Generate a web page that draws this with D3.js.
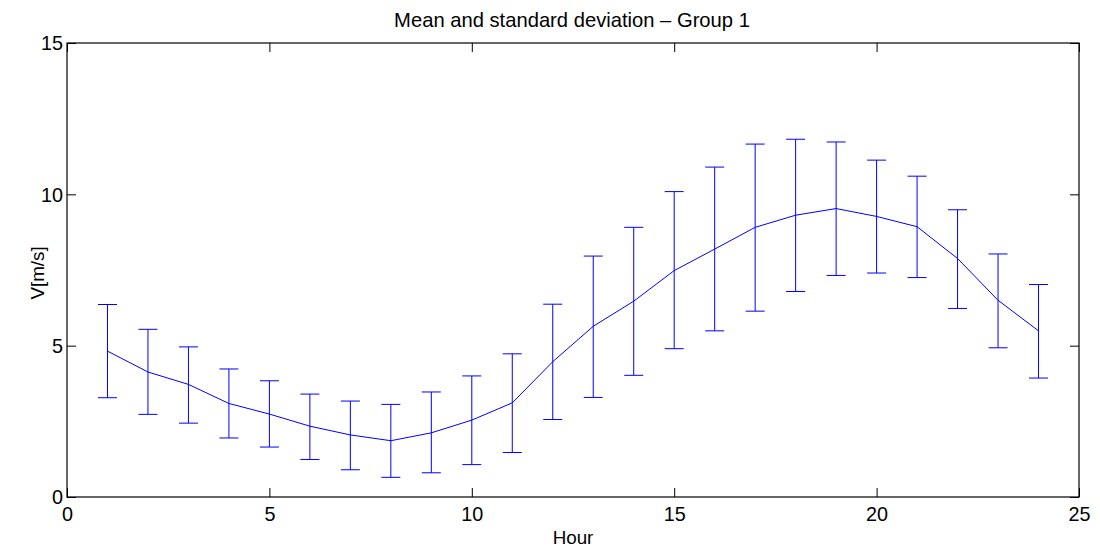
<!DOCTYPE html>
<html><head><meta charset="utf-8">
<script src="https://cdn.jsdelivr.net/npm/d3@7"></script>
<style>
html,body{margin:0;padding:0;background:#fff;}
text{font-family:"Liberation Sans",Arial,sans-serif;fill:#000;}
</style></head>
<body>
<svg id="chart" width="1100" height="549"></svg>
<script>
const hours = [1,2,3,4,5,6,7,8,9,10,11,12,13,14,15,16,17,18,19,20,21,22,23,24];
const meanV = [4.82,4.13,3.72,3.09,2.74,2.34,2.05,1.86,2.12,2.54,3.11,4.47,5.64,6.47,7.48,8.19,8.91,9.31,9.53,9.27,8.93,7.88,6.50,5.49];
const upperV = [6.36,5.54,4.96,4.23,3.84,3.40,3.17,3.06,3.47,4.00,4.73,6.37,7.96,8.91,10.09,10.90,11.66,11.82,11.73,11.13,10.60,9.49,8.03,7.02];
const lowerV = [3.28,2.73,2.44,1.95,1.65,1.24,0.90,0.65,0.80,1.07,1.47,2.56,3.29,4.02,4.90,5.49,6.14,6.79,7.32,7.40,7.25,6.23,4.93,3.93];
const xTicks = [0,5,10,15,20,25];
const yTicks = [0,5,10,15];
const title = "Mean and standard deviation \u2013 Group 1";
const xLabel = "Hour";
const yLabel = "V[m/s]";

const svg = d3.select("#chart");
const L = 67, R = 1079, T = 43, B = 497;
const x = d3.scaleLinear().domain([0,25]).range([L,R]);
const y = d3.scaleLinear().domain([0,15]).range([B,T]);
const fsTick = 19.8;
const fsTitle = 20.2;
const fsLabel = 18.8;
const blue = "#0000ff";
const cap = 9.5;

const g = svg.append("g");
g.append("rect").attr("x",L).attr("y",T).attr("width",R-L).attr("height",B-T)
  .attr("fill","none").attr("stroke","#000").attr("stroke-width",1.2);

const xb = g.append("g").attr("transform",`translate(0,${B})`)
  .call(d3.axisBottom(x).tickValues(xTicks).tickSizeInner(-9).tickSizeOuter(0).tickPadding(14).tickFormat(d3.format("d")));
const xt = g.append("g").attr("transform",`translate(0,${T})`)
  .call(d3.axisTop(x).tickValues(xTicks).tickSizeInner(-9).tickSizeOuter(0).tickFormat(""));
const yl = g.append("g").attr("transform",`translate(${L},0)`)
  .call(d3.axisLeft(y).tickValues(yTicks).tickSizeInner(-9).tickSizeOuter(0).tickPadding(14).tickFormat(d3.format("d")));
const yr = g.append("g").attr("transform",`translate(${R},0)`)
  .call(d3.axisRight(y).tickValues(yTicks).tickSizeInner(-9).tickSizeOuter(0).tickFormat(""));
[xb,xt,yl,yr].forEach(a=>{
  a.select(".domain").remove();
  a.selectAll(".tick line").attr("stroke","#000");
  a.selectAll("text").attr("font-size",fsTick).attr("font-family","Liberation Sans, Arial, sans-serif").attr("fill","#000");
});
xb.selectAll("text").attr("dy",null).attr("y",24);
yl.selectAll("text").attr("x",-4).attr("dy","0.35em");

const eb = g.append("g").attr("stroke",blue).attr("stroke-width",1).attr("fill","none");
hours.forEach((h,i)=>{
  eb.append("line").attr("x1",x(h)).attr("x2",x(h)).attr("y1",y(lowerV[i])).attr("y2",y(upperV[i]));
  eb.append("line").attr("x1",x(h)-cap).attr("x2",x(h)+cap).attr("y1",y(upperV[i])).attr("y2",y(upperV[i]));
  eb.append("line").attr("x1",x(h)-cap).attr("x2",x(h)+cap).attr("y1",y(lowerV[i])).attr("y2",y(lowerV[i]));
});

const line = d3.line().x((d,i)=>x(hours[i])).y(d=>y(d));
g.append("path").datum(meanV).attr("d",line).attr("fill","none").attr("stroke",blue).attr("stroke-width",1);

svg.append("text").attr("x",572).attr("y",27).attr("text-anchor","middle").attr("font-size",fsTitle).text(title);
svg.append("text").attr("x",573).attr("y",544).attr("text-anchor","middle").attr("font-size",fsLabel).text(xLabel);
svg.append("text").attr("transform",`translate(44,${(T+B)/2+3}) rotate(-90)`).attr("text-anchor","middle").attr("font-size",fsLabel).text(yLabel);
</script>
</body></html>
